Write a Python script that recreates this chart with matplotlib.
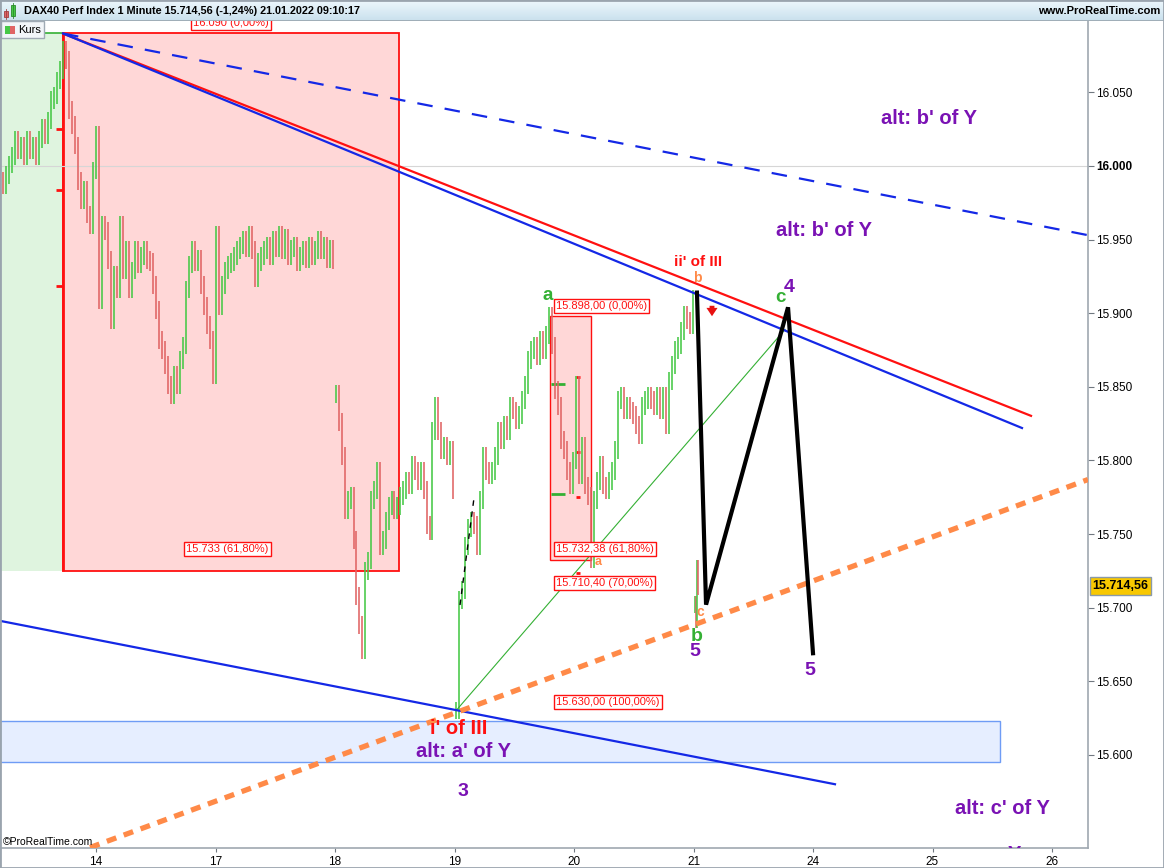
import numpy as np
import matplotlib
matplotlib.use('Agg')
import matplotlib.pyplot as plt
from matplotlib.patches import Rectangle

# ---------------- data ----------------
day_labels = ['14', '17', '18', '19', '20', '21', '24', '25', '26']
y_ticks = [15600, 15650, 15700, 15750, 15800, 15850, 15900, 15950, 16000, 16050]

# 1-minute closes per session
seg1 = [15990, 15987, 15994, 16001, 16007, 16018, 16011, 16014, 16007, 16018,
        16011, 16014, 16007, 16018, 16026, 16021, 16031, 16045, 16048, 16058,
        16065, 16079, 16072, 16038, 16028, 16014, 15990, 15977, 15984, 15967,
        15960, 15997, 16021, 15909, 15960, 15956, 15936, 15895, 15926, 15916,
        15960, 15929, 15943, 15916, 15929, 15943, 15933, 15939, 15943, 15936,
        15935, 15919, 15902, 15882, 15875, 15865, 15851, 15844, 15858, 15851,
        15868, 15878, 15916, 15933, 15943, 15935, 15937, 15919, 15905, 15892,
        15882, 15858, 15953, 15905, 15919, 15929, 15933, 15935, 15939, 15943,
        15946, 15950, 15944, 15953, 15943, 15924, 15935, 15939, 15943, 15946,
        15939, 15950, 15944, 15953, 15943, 15951, 15939, 15944, 15946, 15935,
        15939, 15943, 15937, 15946, 15939, 15943, 15950, 15943, 15946, 15937,
        15944, 15936]
seg2 = [15845, 15826, 15803, 15766, 15773, 15776, 15746, 15708, 15688, 15671,
        15725, 15732, 15773, 15780, 15793, 15742, 15746, 15759, 15769, 15773,
        15766, 15769, 15776, 15780, 15786, 15783, 15797, 15793, 15786, 15793,
        15780, 15756, 15752, 15820, 15837, 15820, 15807, 15810, 15803, 15807,
        15780]
seg3 = [15630, 15705, 15712, 15742, 15754, 15759, 15756, 15742, 15773, 15803,
        15793, 15790, 15793, 15803, 15820, 15814, 15824, 15820, 15837, 15834,
        15827, 15831, 15841, 15851, 15868, 15875, 15878, 15871, 15882, 15875,
        15885, 15898, 15878, 15848, 15837, 15814, 15807, 15793, 15783, 15800,
        15851, 15790, 15810, 15783, 15776, 15733, 15773, 15786, 15797, 15783,
        15780, 15786, 15793, 15807, 15841, 15844, 15834, 15837, 15834, 15831,
        15824, 15817, 15837, 15841, 15844, 15841, 15837, 15844, 15834, 15844,
        15824, 15854, 15865, 15875, 15878, 15888, 15899, 15895, 15892, 15910]
seg4 = [15702, 15692, 15726, 15714.56]
sessions = [seg1, seg2, seg3, seg4]
session_spans = [(-0.803, 1.983), (2.008, 2.987), (3.013, 4.996), (5.013, 5.038)]

last_price = 15714.56

# analysis lines (x in trading-day units, y in index points)
red_trend_x, red_trend_y = [-0.276, 7.833], [16090, 15830]
blue_trend_x, blue_trend_y = [-0.276, 7.749], [16090, 15822]
blue_dash_x, blue_dash_y = [-0.276, 8.301], [16090, 15953]
blue_low_x, blue_low_y = [-0.803, 6.184], [15691, 15580]
orange_x, orange_y = [-0.05, 8.301], [15537, 15787]
green_x, green_y = [3.013, 5.766], [15630, 15889]
path_x, path_y = [5.029, 5.105, 5.791, 6.0], [15914, 15702, 15904, 15669]

# ---------------- helpers ----------------
W, H = 1164, 868
def D(px):
    return (px - 96) / 119.5
def P(py):
    return 16000 - (py - 166) / 1.472

FONT = ['Liberation Sans', 'DejaVu Sans']
NARROW = ['Liberation Sans Narrow', 'Liberation Sans', 'DejaVu Sans']
plt.rcParams['font.family'] = FONT

PURPLE = '#7a12b4'
RED = '#ff1010'
GREEN = '#34b034'
ORANGE = '#ff8a48'

fig = plt.figure(figsize=(W / 100, H / 100), dpi=100)
fig.patch.set_facecolor('white')
ax = fig.add_axes([0, 20 / H, 1088 / W, (848 - 21) / H])
ax.set_xlim(D(0), D(1088))
ax.set_ylim(P(848), P(21))
ax.set_facecolor('white')

# background zones
ax.add_patch(Rectangle((D(0), P(571)), D(63) - D(0), P(33) - P(571),
                       fc='#dff4df', ec='none', zorder=0.5))
ax.hlines(P(33), D(40), D(63), color=GREEN, lw=1.2, zorder=0.6)
ax.add_patch(Rectangle((D(63), P(571)), D(399) - D(63), P(33) - P(571),
                       fc='#ffd7d7', ec=RED, lw=1.3, zorder=0.6))
ax.vlines(D(63), P(571), P(33), color=RED, lw=2.0, zorder=0.7)
ax.add_patch(Rectangle((D(550), 15732.38), D(591) - D(550), 15898 - 15732.38,
                       fc='#ffd7d7', ec=RED, lw=1.0, zorder=0.6))
ax.add_patch(Rectangle((D(0), P(762)), D(1000) - D(0), P(721) - P(762),
                       fc='#e6eeff', ec='#6f9cf5', lw=1.0, zorder=0.6))
ax.axhline(16000, color='#d6d6d6', lw=0.8, zorder=0.8)

# fib ticks
ax.hlines([P(129), P(190), P(286)], D(56), D(62), color=RED, lw=2, zorder=2)
ax.hlines([P(384), P(494)], D(551), D(565), color=GREEN, lw=2, zorder=2)
ax.hlines([P(377), P(452), P(497), P(573)], D(576), D(580), color=RED, lw=2, zorder=2)

# bars
wick = 6
for seg, (a, b) in zip(sessions, session_spans):
    xs = np.linspace(a, b, len(seg))
    closes = np.array(seg, dtype=float)
    opens = np.concatenate([[closes[0]], closes[:-1]])
    hi = np.maximum(opens, closes) + wick
    lo = np.minimum(opens, closes) - wick
    cols = np.where(closes >= opens, '#46c846', '#e06464')
    ax.vlines(xs, lo, hi, colors=cols, lw=1.15, zorder=3)

# dashed black sketch near the i' low
ax.plot([D(460), D(474)], [P(605), P(498)], color='black', lw=1.0,
        dashes=(4, 4), zorder=4)

# trend lines
ax.plot(red_trend_x, red_trend_y, color=RED, lw=1.6, zorder=5, solid_capstyle='butt')
ax.plot(blue_trend_x, blue_trend_y, color='#1428e6', lw=1.6, zorder=5)
ax.plot(blue_dash_x, blue_dash_y, color='#1428e6', lw=1.6, dashes=(7, 5.5), zorder=5)
ax.plot(blue_low_x, blue_low_y, color='#1428e6', lw=1.6, zorder=5)
ax.plot(orange_x, orange_y, color=ORANGE, lw=3.8, dashes=(1.9, 1.5), zorder=5)
ax.plot(green_x, green_y, color=GREEN, lw=0.8, zorder=4)
ax.plot(path_x, path_y, color='black', lw=3.0, zorder=6, solid_joinstyle='miter')

# fib label boxes
def fib(px, py_bottom, s, ha='left'):
    ax.text(D(px), P(py_bottom) + 1.2, s, fontsize=8, color=RED, ha=ha, va='bottom',
            family=FONT, zorder=9,
            bbox=dict(boxstyle='square,pad=0.2', fc='white', ec=RED, lw=1.0))

fib(193, 30, '16.090 (0,00%)')
fib(186, 556, '15.733 (61,80%)')
fib(556, 313, '15.898,00 (0,00%)')
fib(556, 556, '15.732,38 (61,80%)')
fib(556, 590, '15.710,40 (70,00%)')
fib(556, 709, '15.630,00 (100,00%)')

# wave labels
def lbl(px, py, s, color, size):
    ax.text(D(px), P(py), s, color=color, fontsize=size, fontweight='bold',
            ha='center', va='center', zorder=8, family=FONT)

lbl(929, 118, "alt: b' of Y", PURPLE, 14.5)
lbl(824, 230, "alt: b' of Y", PURPLE, 14.5)
lbl(698, 262, "ii' of III", RED, 11)
lbl(697, 278, 'b', ORANGE, 10)
lbl(548, 296, 'a', GREEN, 13.5)
lbl(780, 298, 'c', GREEN, 13.5)
lbl(789, 288, '4', PURPLE, 14)
lbl(700, 612, 'c', ORANGE, 10)
lbl(697, 636, 'b', GREEN, 14)
lbl(695, 651, '5', PURPLE, 14)
lbl(810, 670, '5', PURPLE, 14)
lbl(598, 562, 'a', ORANGE, 9)
lbl(459, 728, "i' of III", RED, 14.5)
lbl(463, 751, "alt: a' of Y", PURPLE, 14.5)
lbl(463, 792, '3', PURPLE, 14)
lbl(1002, 808, "alt: c' of Y", PURPLE, 14.5)
ax.text(D(1014), P(854), 'Y', color=PURPLE, fontsize=14.5, fontweight='bold',
        ha='center', va='center', zorder=8, clip_on=True)

# red arrow
ax.annotate('', xy=(D(712), P(319)), xytext=(D(712), P(303)),
            arrowprops=dict(arrowstyle='simple,head_width=0.8,head_length=0.6,tail_width=0.35',
                            color='#e81010', lw=0), zorder=8)

ax.text(D(3), P(842), '©ProRealTime.com', fontsize=7.5, family=NARROW,
        ha='left', va='center', zorder=8)

# axes styling
for s in ['top', 'left']:
    ax.spines[s].set_visible(False)
for s in ['right', 'bottom']:
    ax.spines[s].set_color('#a0a8b0')
    ax.spines[s].set_linewidth(1.2)
ax.yaxis.tick_right()
ax.set_yticks(y_ticks)
ax.set_yticklabels([f'{v / 1000:.3f}' for v in y_ticks])
ax.tick_params(axis='y', direction='out', length=4, pad=2, labelsize=8.5,
               color='#707880', labelcolor='black')
for t, v in zip(ax.get_yticklabels(), y_ticks):
    t.set_family(FONT)
    if v == 16000:
        t.set_fontweight('bold')
ax.set_xticks(range(len(day_labels)))
ax.set_xticklabels(day_labels)
ax.tick_params(axis='x', direction='out', length=3, pad=3, labelsize=8.5,
               color='#707880')
for t in ax.get_xticklabels():
    t.set_family(NARROW)

# last price tag
ax.annotate('15.714,56', xy=(1.004, last_price), xycoords=('axes fraction', 'data'),
            fontsize=9, fontweight='bold', ha='left', va='center', annotation_clip=False,
            bbox=dict(boxstyle='square,pad=0.22', fc='#f8c800', ec='#8a9aa8', lw=1.0),
            zorder=10)

# header
hax = fig.add_axes([0, 1 - 21 / H, 1, 21 / H])
grad = np.linspace(0, 1, 20).reshape(-1, 1)
top_c = np.array([0.93, 0.97, 0.99])
bot_c = np.array([0.79, 0.88, 0.93])
img = top_c[None, None, :] * (1 - grad[:, :, None]) + bot_c[None, None, :] * grad[:, :, None]
hax.imshow(img, extent=(0, W, 21, 0), aspect='auto')
hax.set_xlim(0, W)
hax.set_ylim(21, 0)
hax.axis('off')
hax.plot([0, W], [20.5, 20.5], color='#98a4ae', lw=1.2)
hax.add_patch(Rectangle((4, 11), 4, 6, fc='#e06464', ec='#a04040', lw=0.6))
hax.plot([6, 6], [9, 19], color='#a04040', lw=0.6)
hax.add_patch(Rectangle((11, 5), 4, 11, fc='#46c846', ec='#2a8a2a', lw=0.6))
hax.plot([13, 13], [3, 18], color='#2a8a2a', lw=0.6)
hax.text(24, 11, 'DAX40 Perf Index 1 Minute 15.714,56 (-1,24%) 21.01.2022 09:10:17',
         fontsize=7.8, fontweight='bold', ha='left', va='center', family=FONT)
hax.text(1160, 11, 'www.ProRealTime.com', fontsize=8, fontweight='bold',
         ha='right', va='center', family=FONT)

# Kurs legend box
fig.patches.append(Rectangle((1 / W, 1 - 38 / H), 43 / W, 17 / H, transform=fig.transFigure,
                             fc='#f2f5f8', ec='#a0aab4', lw=1.0, zorder=20))
fig.patches.append(Rectangle((5 / W, 1 - 34 / H), 5 / W, 8 / H, transform=fig.transFigure,
                             fc='#46c846', ec='none', zorder=21))
fig.patches.append(Rectangle((10 / W, 1 - 34 / H), 5 / W, 8 / H, transform=fig.transFigure,
                             fc='#e06464', ec='none', zorder=21))
fig.text(18 / W, 1 - 30 / H, 'Kurs', fontsize=8, ha='left', va='center', zorder=22)

# figure border
fig.patches.append(Rectangle((0, 0), 1, 1, transform=fig.transFigure, fill=False,
                             ec='#9aa4ae', lw=2.0, zorder=30))

fig.savefig('out.png', dpi=100)
